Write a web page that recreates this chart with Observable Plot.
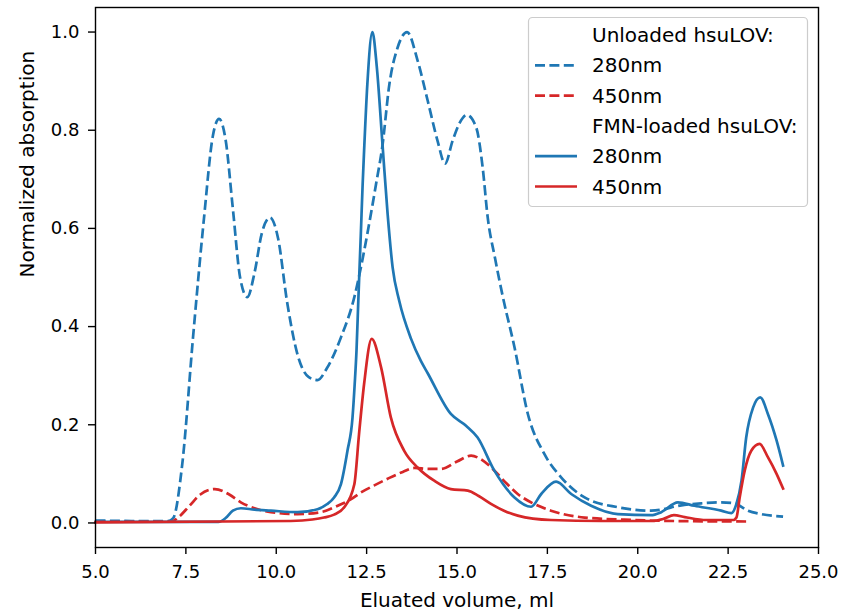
<!DOCTYPE html>
<html><head><meta charset="utf-8">
<script src="https://cdn.jsdelivr.net/npm/d3@7"></script>
<script src="https://cdn.jsdelivr.net/npm/@observablehq/plot@0.6"></script>
<style>
html,body{margin:0;padding:0;background:#fff;}
#wrap{position:relative;width:856px;height:610px;font-family:"DejaVu Sans",sans-serif;}
#legend{position:absolute;left:0;top:0;pointer-events:none;}
</style></head><body><div id="wrap"></div>
<script>
// ---- data ----
const xTicks = [5.0, 7.5, 10.0, 12.5, 15.0, 17.5, 20.0, 22.5, 25.0];
const yTicks = [0.0, 0.2, 0.4, 0.6, 0.8, 1.0];
const xLabel = "Eluated volume, ml";
const yLabel = "Normalized absorption";
const legendLabels = ["Unloaded hsuLOV:", "280nm", "450nm", "FMN-loaded hsuLOV:", "280nm", "450nm"];

// Unloaded hsuLOV, 280 nm (dashed blue)
const unloaded280 = [
  [5.0,0.005],[6.0,0.004],[7.0,0.004],[7.15,0.01],[7.4,0.12],[7.7,0.38],[8.0,0.62],[8.25,0.79],[8.42,0.823],
  [8.6,0.78],[8.8,0.64],[9.0,0.5],[9.2,0.46],[9.4,0.51],[9.6,0.59],[9.83,0.622],[10.05,0.58],[10.3,0.45],
  [10.6,0.34],[10.9,0.297],[11.14,0.291],[11.4,0.315],[11.79,0.378],[12.16,0.46],[12.34,0.52],[12.52,0.589],
  [12.76,0.69],[12.94,0.77],[13.13,0.894],[13.36,0.969],[13.62,1.0],[13.91,0.942],[14.19,0.86],[14.46,0.779],[14.67,0.732],
  [14.88,0.779],[15.06,0.813],[15.27,0.831],[15.53,0.806],[15.71,0.724],[15.85,0.622],[16.05,0.54],[16.27,0.46],
  [16.59,0.358],[16.96,0.222],[17.42,0.14],[17.88,0.093],[18.53,0.052],[19.45,0.032],[20.37,0.025],
  [21.29,0.037],[21.76,0.04],[22.3,0.042],[22.67,0.04],[23.05,0.025],[23.42,0.018],[24.02,0.013]
];
// Unloaded hsuLOV, 450 nm (dashed red)
const unloaded450 = [
  [5.0,0.003],[7.1,0.003],[7.3,0.012],[7.6,0.035],[7.9,0.058],[8.3,0.069],[8.7,0.058],[9.02,0.042],[9.4,0.03],
  [9.85,0.022],[10.59,0.018],[11.23,0.022],[11.7,0.035],[12.06,0.048],[12.34,0.062],[12.7,0.076],[13.08,0.09],
  [13.5,0.104],[13.82,0.112],[14.2,0.11],[14.56,0.11],[15.0,0.125],[15.39,0.137],[15.7,0.128],[16.03,0.107],
  [16.35,0.082],[16.68,0.059],[17.1,0.04],[17.6,0.025],[18.53,0.011],[19.9,0.006],[21.0,0.004],[23.05,0.003]
];
// FMN-loaded hsuLOV, 280 nm (solid blue)
const loaded280 = [
  [5.0,0.002],[8.4,0.002],[8.6,0.01],[8.8,0.025],[9.02,0.03],[9.4,0.027],[9.85,0.025],[10.59,0.022],[11.14,0.028],
  [11.4,0.038],[11.6,0.052],[11.79,0.079],[11.97,0.147],[12.11,0.215],[12.17,0.283],[12.22,0.351],[12.27,0.453],
  [12.34,0.589],[12.39,0.69],[12.43,0.758],[12.52,0.894],[12.66,1.0],[12.78,0.93],[12.94,0.77],[13.08,0.63],
  [13.22,0.52],[13.4,0.453],[13.73,0.375],[14.0,0.33],[14.19,0.305],[14.83,0.222],[15.25,0.198],[15.57,0.174],
  [16.03,0.107],[16.59,0.052],[17.05,0.033],[17.33,0.059],[17.74,0.084],[18.16,0.059],[18.71,0.035],[19.45,0.018],
  [20.37,0.016],[20.65,0.022],[21.11,0.042],[21.57,0.035],[22.31,0.025],[22.59,0.02],[22.73,0.039],[22.87,0.086],
  [23.0,0.174],[23.19,0.235],[23.39,0.256],[23.6,0.222],[23.84,0.168],[24.02,0.117]
];
// FMN-loaded hsuLOV, 450 nm (solid red)
const loaded450 = [
  [5.0,0.001],[10.4,0.004],[11.0,0.007],[11.32,0.011],[11.6,0.017],[11.88,0.032],[12.16,0.079],[12.29,0.181],
  [12.43,0.283],[12.64,0.375],[12.9,0.317],[13.17,0.215],[13.54,0.147],[13.91,0.113],[14.37,0.086],[14.83,0.069],
  [15.3,0.066],[15.6,0.055],[15.94,0.039],[16.3,0.025],[16.68,0.015],[17.6,0.006],[19.0,0.004],[20.4,0.004],
  [20.7,0.008],[21.0,0.016],[21.3,0.012],[21.9,0.006],[22.65,0.006],[22.73,0.011],[22.82,0.052],[22.96,0.107],
  [23.14,0.147],[23.37,0.161],[23.6,0.134],[23.84,0.1],[24.02,0.07]
];

// ---- styling ----
const BLUE = "#1f77b4", RED = "#d62728";
const LW = 2.7, DASH = "10,4.4";

const series = [
  {data: unloaded280, color: BLUE, dash: DASH},
  {data: unloaded450, color: RED, dash: DASH},
  {data: loaded280, color: BLUE, dash: null},
  {data: loaded450, color: RED, dash: null}
];

const fmt = d3.format(".1f");
const chart = Plot.plot({
  width: 856, height: 610,
  marginLeft: 95, marginRight: 38, marginTop: 7, marginBottom: 63,
  x: {domain: [5, 25]},
  y: {domain: [-0.05, 1.05]},
  style: {fontFamily: "DejaVu Sans, sans-serif", fontSize: "18px", background: "white", color: "black", overflow: "visible"},
  marks: [
    ...series.map(s => Plot.line(s.data, {
      x: d => d[0], y: d => d[1], stroke: s.color, strokeWidth: LW,
      strokeDasharray: s.dash || undefined, strokeLinecap: s.dash ? "butt" : "square",
      curve: "monotone-x"
    })),
    Plot.frame({stroke: "black", strokeWidth: 1.4}),
    Plot.axisX({ticks: xTicks, tickFormat: fmt, tickSize: 7, tickPadding: 11, strokeWidth: 1.4, label: null, fontSize: 18}),
    Plot.axisY({ticks: yTicks, tickFormat: fmt, tickSize: 7, tickPadding: 9, strokeWidth: 1.4, label: null, fontSize: 18}),
    Plot.text([xLabel], {frameAnchor: "bottom", dy: 52.6, lineAnchor: "middle", fontSize: 20, fill: "black"}),
    Plot.text([yLabel], {frameAnchor: "left", dx: -68, rotate: -90, lineAnchor: "middle", fontSize: 20, fill: "black"})
  ]
});
const wrap = document.getElementById("wrap");
wrap.appendChild(chart);

// ---- legend overlay ----
const lg = d3.select(wrap).append("svg").attr("id", "legend")
  .attr("width", 856).attr("height", 610)
  .style("font-family", "DejaVu Sans, sans-serif");
const bx = 528, by = 17, bw = 279, bh = 189, rowH = 30.3, row0 = 18;
lg.append("rect").attr("x", bx + 0.5).attr("y", by + 0.5).attr("width", bw).attr("height", bh)
  .attr("rx", 4).attr("fill", "white").attr("fill-opacity", 0.8).attr("stroke", "#cccccc").attr("stroke-width", 1.2);
const handles = [null, series[0], series[1], null, series[2], series[3]];
legendLabels.forEach((t, i) => {
  const cy = by + row0 + i * rowH;
  const h = handles[i];
  if (h) {
    lg.append("line").attr("x1", bx + 7).attr("x2", bx + 49).attr("y1", cy).attr("y2", cy)
      .attr("stroke", h.color).attr("stroke-width", LW)
      .attr("stroke-dasharray", h.dash || null);
  }
  lg.append("text").attr("x", bx + 64).attr("y", cy).attr("dy", "0.35em")
    .attr("font-size", 20).attr("fill", "black").text(t);
});
</script></body></html>
